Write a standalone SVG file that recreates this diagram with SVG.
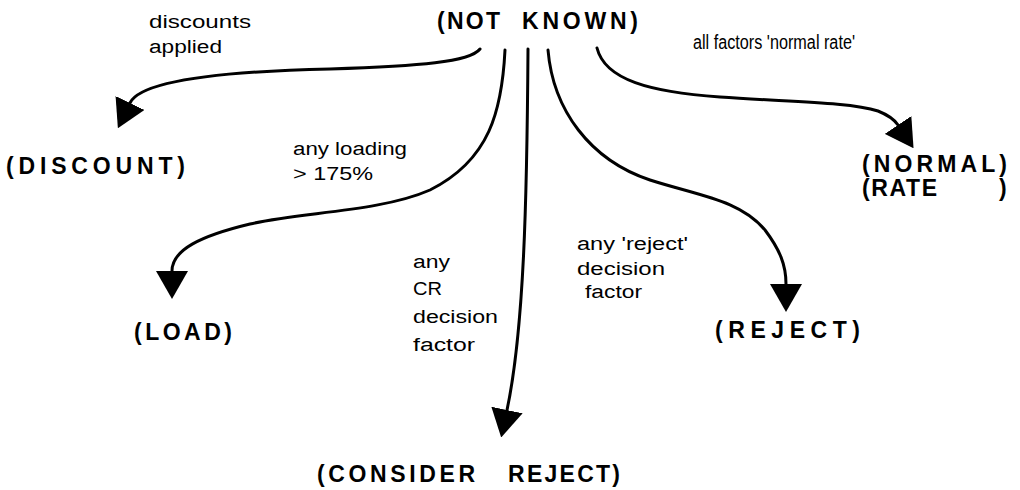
<svg xmlns="http://www.w3.org/2000/svg" width="1020" height="490" viewBox="0 0 1020 490">
  <style>
    .state { font-family: "Liberation Sans", Arial, Helvetica, sans-serif; font-weight: bold; font-size: 23px; fill: #000; }
    .cond { font-family: "Liberation Sans", Arial, Helvetica, sans-serif; font-size: 18px; fill: #000; }
    .edge { fill: none; stroke: #000; stroke-width: 3; stroke-linecap: round; marker-end: url(#head); }
  </style>
  <defs>
    <marker id="head" viewBox="0 0 28 32" refX="0" refY="16" markerWidth="28" markerHeight="32" markerUnits="userSpaceOnUse" orient="auto">
      <path d="M0,0 L28,16 L0,32 Z" fill="#000"/>
    </marker>
  </defs>

  <rect width="1020" height="490" fill="#fff"/>

  <!-- states -->
  <g id="not-known">
    <text class="state" x="437" y="29" textLength="63">(NOT</text>
    <text class="state" x="522" y="29" textLength="116">KNOWN)</text>
  </g>
  <g id="discount">
    <text class="state" x="6" y="174" textLength="179">(DISCOUNT)</text>
  </g>
  <g id="load">
    <text class="state" x="134" y="340" textLength="98">(LOAD)</text>
  </g>
  <g id="consider-reject">
    <text class="state" x="317" y="482" textLength="158">(CONSIDER</text>
    <text class="state" x="508" y="482" textLength="112">REJECT)</text>
  </g>
  <g id="reject">
    <text class="state" x="715" y="338" textLength="145">(REJECT)</text>
  </g>
  <g id="normal-rate">
    <text class="state" x="862" y="172" textLength="145">(NORMAL)</text>
    <text class="state" x="862" y="196" textLength="75">(RATE</text>
    <text class="state" x="999" y="196">)</text>
  </g>

  <!-- transitions -->
  <g id="connectors">
    <path class="edge" d="M480,49 C470,62 420,66 330,69 C240,71 142,78 130,103"/>
    <path class="edge" d="M505,50 C502,110 490,160 430,190 C380,212 300,212 250,224 C200,236 172,250 172,271"/>
    <path class="edge" d="M528,49 C527,200 524,330 507,410"/>
    <path class="edge" d="M548,50 C553,110 590,160 650,180 C700,196 740,200 765,230 C780,250 786,265 786,284"/>
    <path class="edge" d="M597,48 C605,80 650,92 720,97 C790,102 850,102 878,111 C888,115 894,119 898,125"/>
  </g>

  <!-- transition conditions -->
  <g id="labels">
    <text class="cond" x="149" y="28" textLength="102" lengthAdjust="spacingAndGlyphs">discounts</text>
    <text class="cond" x="149" y="53" textLength="73" lengthAdjust="spacingAndGlyphs">applied</text>

    <text class="cond" x="293" y="155" textLength="114" lengthAdjust="spacingAndGlyphs">any loading</text>
    <text class="cond" x="293" y="180" textLength="80" lengthAdjust="spacingAndGlyphs">&gt; 175%</text>

    <text class="cond" x="413" y="268" textLength="37" lengthAdjust="spacingAndGlyphs">any</text>
    <text class="cond" x="413" y="295" textLength="29" lengthAdjust="spacingAndGlyphs">CR</text>
    <text class="cond" x="413" y="323" textLength="85" lengthAdjust="spacingAndGlyphs">decision</text>
    <text class="cond" x="413" y="351" textLength="62" lengthAdjust="spacingAndGlyphs">factor</text>

    <text class="cond" x="577" y="250" textLength="111" lengthAdjust="spacingAndGlyphs">any 'reject'</text>
    <text class="cond" x="577" y="275" textLength="88" lengthAdjust="spacingAndGlyphs">decision</text>
    <text class="cond" x="585" y="298" textLength="57" lengthAdjust="spacingAndGlyphs">factor</text>

    <text class="cond" x="693" y="49" textLength="162" lengthAdjust="spacingAndGlyphs" style="font-size:20px">all factors 'normal rate'</text>
  </g>
</svg>
